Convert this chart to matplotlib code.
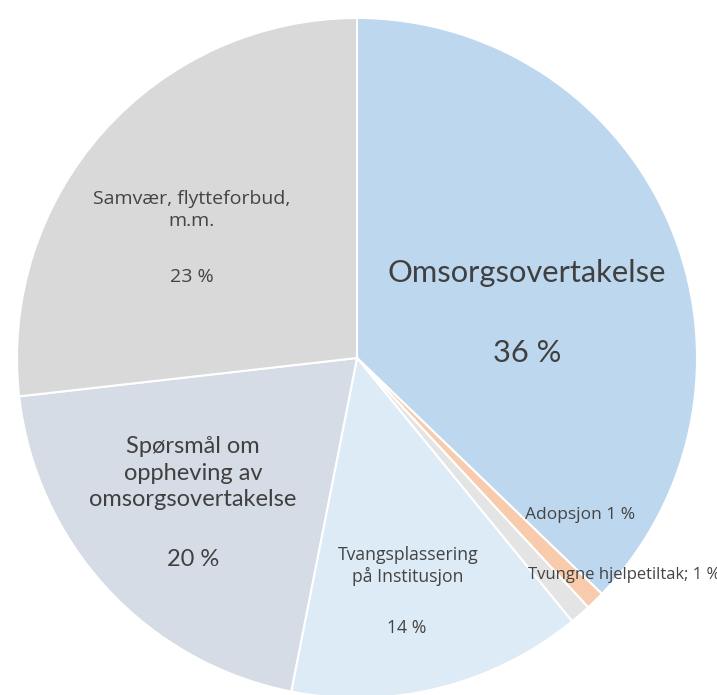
import matplotlib.pyplot as plt
import numpy as np

# slice sizes (printed labels differ slightly)
categories = ['Omsorgsovertakelse', 'Adopsjon', 'Tvungne hjelpetiltak',
              'Tvangsplassering på Institusjon',
              'Spørsmål om oppheving av omsorgsovertakelse',
              'Samvær, flytteforbud, m.m.']
shares = [37.2, 0.9, 1.0, 14.0, 20.1, 26.8]
printed_pct = ['36 %', '1 %', '1 %', '14 %', '20 %', '23 %']
colors = ['#bdd7ee', '#f8cbad', '#e4e4e4', '#ddebf7', '#d6dce5', '#d9d9d9']

W, H = 717, 695
CX, CY, R = 357, 358, 340


def px(x, y):
    # pixel position in the picture -> data coords of the pie (radius 1)
    return (x - CX) / R, (CY - y) / R


fig = plt.figure(figsize=(W / 100, H / 100), dpi=100)
ax = fig.add_axes([0, 0, 1, 1])
ax.pie(shares, colors=colors, startangle=90, counterclock=False, radius=1,
       wedgeprops=dict(edgecolor='white', linewidth=1.5))
ax.set_xlim(-CX / R, (W - CX) / R)
ax.set_ylim(-(H - CY) / R, CY / R)
ax.set_aspect('auto')
ax.axis('off')

big = dict(color='#404040', family='Lato', ha='center', va='center')
small = dict(color='#444444', family='Open Sans', ha='center', va='center')

ax.text(*px(527, 273), categories[0], fontsize=22.2, **big)
ax.text(*px(527, 353), printed_pct[0], fontsize=22.2, **big)

ax.text(*px(580, 515), 'Adopsjon ' + printed_pct[1], fontsize=12.5, **small)
ax.text(*px(528, 575), 'Tvungne hjelpetiltak; ' + printed_pct[2],
        fontsize=12, color='#444444', family='Open Sans', ha='left',
        va='center')

ax.text(*px(408, 566), 'Tvangsplassering\npå Institusjon', fontsize=12.7,
        linespacing=1.25, **small)
ax.text(*px(407, 628), printed_pct[3], fontsize=12.7, **small)

ax.text(*px(193, 473), 'Spørsmål om\noppheving av\nomsorgsovertakelse',
        fontsize=17, linespacing=1.35, **big)
ax.text(*px(193, 560), printed_pct[4], fontsize=17, **big)

ax.text(*px(192, 210), 'Samvær, flytteforbud,\nm.m.', fontsize=14,
        linespacing=1.3, **small)
ax.text(*px(192, 277), printed_pct[5], fontsize=14, **small)

fig.savefig('out.png', dpi=100)
